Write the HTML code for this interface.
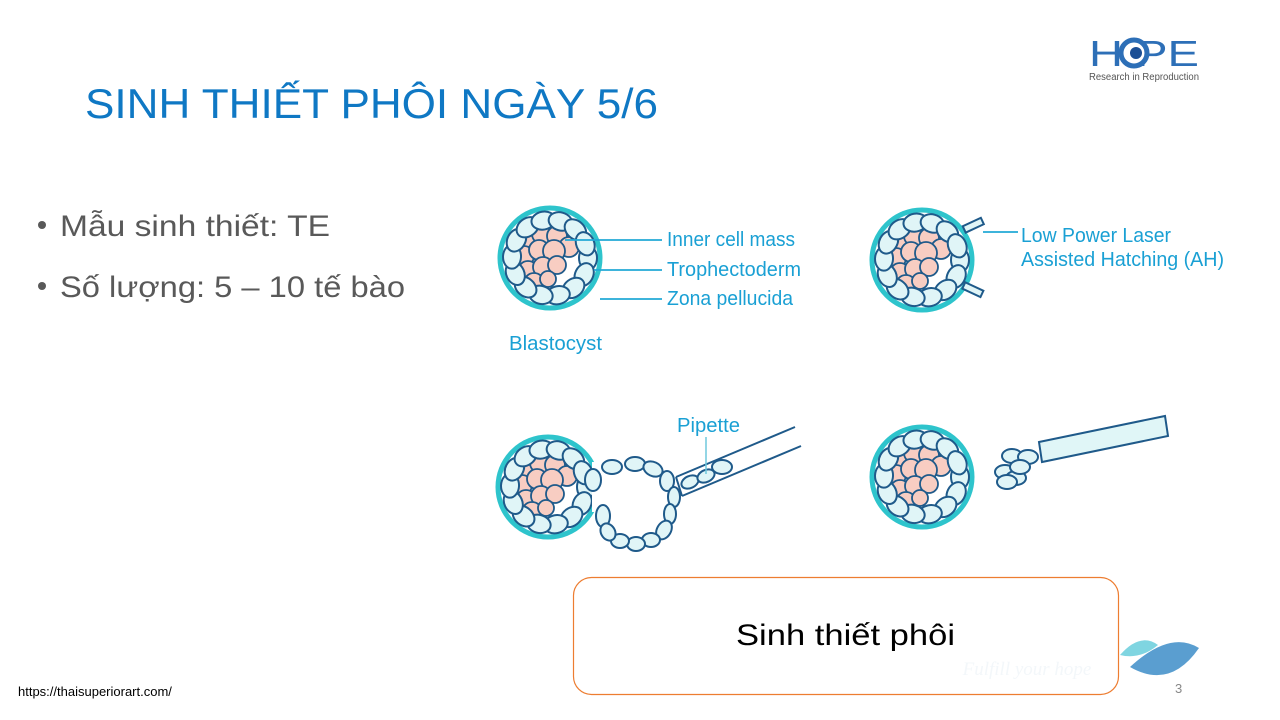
<!DOCTYPE html>
<html><head><meta charset="utf-8"><style>
html,body{margin:0;padding:0;background:#fff}
svg{display:block}
</style></head><body>
<svg width="1280" height="720" viewBox="0 0 1280 720" xmlns="http://www.w3.org/2000/svg">
<defs>
<g id="ring" fill="#e0f5f7" stroke="#1f5a8a" stroke-width="2">
<g transform="rotate(0)"><ellipse cx="38" cy="0" rx="9" ry="12"/></g>
<g transform="rotate(26)"><ellipse cx="38" cy="0" rx="9" ry="12"/></g>
<g transform="rotate(52)"><ellipse cx="38" cy="0" rx="9" ry="12"/></g>
<g transform="rotate(78)"><ellipse cx="38" cy="0" rx="9" ry="12"/></g>
<g transform="rotate(104)"><ellipse cx="38" cy="0" rx="9" ry="12"/></g>
<g transform="rotate(130)"><ellipse cx="38" cy="0" rx="9" ry="12"/></g>
<g transform="rotate(156)"><ellipse cx="38" cy="0" rx="9" ry="12"/></g>
<g transform="rotate(182)"><ellipse cx="38" cy="0" rx="9" ry="12"/></g>
<g transform="rotate(208)"><ellipse cx="38" cy="0" rx="9" ry="12"/></g>
<g transform="rotate(234)"><ellipse cx="38" cy="0" rx="9" ry="12"/></g>
<g transform="rotate(260)"><ellipse cx="38" cy="0" rx="9" ry="12"/></g>
<g transform="rotate(286)"><ellipse cx="38" cy="0" rx="9" ry="12"/></g>
<g transform="rotate(312)"><ellipse cx="38" cy="0" rx="9" ry="12"/></g>
<g transform="rotate(338)"><ellipse cx="38" cy="0" rx="9" ry="12"/></g>
</g>
<g id="icm" fill="#f8cdc2" stroke="#1f5a8a" stroke-width="1.8">
<circle cx="-22" cy="-18" r="10"/><circle cx="-8" cy="-24" r="10"/><circle cx="7" cy="-22" r="10"/>
<circle cx="19" cy="-11" r="10"/><circle cx="-26" cy="-2" r="10"/><circle cx="-11" cy="-8" r="10"/>
<circle cx="4" cy="-7" r="11"/><circle cx="-22" cy="13" r="10"/><circle cx="-7" cy="9" r="10"/>
<circle cx="7" cy="7" r="9"/><circle cx="-16" cy="25" r="10"/><circle cx="-2" cy="21" r="8"/>
</g>
<g id="bl">
<circle cx="0" cy="0" r="50" fill="#fff" stroke="#2ec4cc" stroke-width="5"/>
<use href="#icm"/>
<use href="#ring"/>
</g>
</defs>

<text x="85" y="118" font-family="Liberation Sans, sans-serif" font-size="42" fill="#0f78c4" textLength="573" lengthAdjust="spacingAndGlyphs">SINH THIẾT PHÔI NGÀY 5/6</text>
<g font-family="Liberation Sans, sans-serif" font-size="30" fill="#595959">
<circle cx="42" cy="225" r="4" fill="#595959"/>
<text x="60" y="236" textLength="270" lengthAdjust="spacingAndGlyphs">Mẫu sinh thiết: TE</text>
<circle cx="42" cy="286" r="4" fill="#595959"/>
<text x="60" y="297" textLength="345" lengthAdjust="spacingAndGlyphs">Số lượng: 5 – 10 tế bào</text>
</g>

<g font-family="Liberation Sans, sans-serif">
<text x="1089" y="66" font-size="36" fill="#2d6fb7" textLength="110" lengthAdjust="spacingAndGlyphs">H  PE</text>
<circle cx="1134" cy="53" r="13" fill="#fff" stroke="#2d6fb7" stroke-width="5"/>
<circle cx="1136" cy="53" r="6" fill="#1b4f95"/>
<text x="1089" y="80" font-size="10" fill="#555" textLength="110" lengthAdjust="spacingAndGlyphs">Research in Reproduction</text>
</g>

<use href="#bl" x="550" y="258"/>
<g stroke="#22a9d6" stroke-width="1.8">
<line x1="565" y1="240" x2="662" y2="240"/>
<line x1="594" y1="270" x2="662" y2="270"/>
<line x1="600" y1="299" x2="662" y2="299"/>
</g>
<g font-family="Liberation Sans, sans-serif" font-size="20" fill="#1aa0d4">
<text x="667" y="246" textLength="128" lengthAdjust="spacingAndGlyphs">Inner cell mass</text>
<text x="667" y="276" textLength="134" lengthAdjust="spacingAndGlyphs">Trophectoderm</text>
<text x="667" y="305" textLength="126" lengthAdjust="spacingAndGlyphs">Zona pellucida</text>
<text x="509" y="350" textLength="93" lengthAdjust="spacingAndGlyphs">Blastocyst</text>
</g>

<use href="#bl" x="922" y="260"/>
<g fill="#e0f5f7" stroke="#1f5a8a" stroke-width="2">
<rect x="964" y="226" width="20" height="7" transform="rotate(-25 964 229)"/>
<rect x="964" y="282" width="20" height="7" transform="rotate(25 964 285)"/>
</g>
<line x1="983" y1="232" x2="1018" y2="232" stroke="#22a9d6" stroke-width="1.8"/>
<g font-family="Liberation Sans, sans-serif" font-size="20" fill="#1aa0d4">
<text x="1021" y="242" textLength="150" lengthAdjust="spacingAndGlyphs">Low Power Laser</text>
<text x="1021" y="266" textLength="203" lengthAdjust="spacingAndGlyphs">Assisted Hatching (AH)</text>
<text x="677" y="432" textLength="63" lengthAdjust="spacingAndGlyphs">Pipette</text>
</g>

<use href="#bl" x="548" y="487"/>
<rect x="592" y="462" width="12" height="50" fill="#fff"/>
<g fill="#e0f5f7" stroke="#1f5a8a" stroke-width="2">
<ellipse cx="593" cy="480" rx="8" ry="11"/>
<ellipse cx="603" cy="516" rx="7" ry="11"/>
<ellipse cx="612" cy="467" rx="10" ry="7"/>
<ellipse cx="635" cy="464" rx="10" ry="7"/>
<ellipse cx="653" cy="469" rx="10" ry="7" transform="rotate(25 653 469)"/>
<ellipse cx="667" cy="481" rx="7" ry="10"/>
<ellipse cx="674" cy="497" rx="6" ry="10"/>
<ellipse cx="670" cy="514" rx="6" ry="10"/>
<ellipse cx="664" cy="530" rx="7" ry="10" transform="rotate(30 664 530)"/>
<ellipse cx="651" cy="540" rx="9" ry="7"/>
<ellipse cx="636" cy="544" rx="9" ry="7"/>
<ellipse cx="620" cy="541" rx="9" ry="7"/>
<ellipse cx="608" cy="532" rx="7" ry="9" transform="rotate(-30 608 532)"/>
<ellipse cx="690" cy="482" rx="9" ry="6" transform="rotate(-25 690 482)"/>
<ellipse cx="706" cy="476" rx="9" ry="6" transform="rotate(-25 706 476)"/>
<ellipse cx="722" cy="467" rx="10" ry="7"/>
</g>
<g stroke="#1f5a8a" stroke-width="2">
<line x1="676" y1="477" x2="795" y2="427"/>
<line x1="682" y1="496" x2="801" y2="446"/>
<line x1="676" y1="477" x2="682" y2="496"/>
</g>
<line x1="706" y1="437" x2="706" y2="474" stroke="#6fc9dc" stroke-width="1.5"/>

<use href="#bl" x="922" y="477"/>
<g fill="#e0f5f7" stroke="#1f5a8a" stroke-width="2">
<ellipse cx="1005" cy="472" rx="10" ry="7"/>
<ellipse cx="1016" cy="478" rx="10" ry="7"/>
<ellipse cx="1007" cy="482" rx="10" ry="7"/>
<ellipse cx="1012" cy="456" rx="10" ry="7"/>
<ellipse cx="1028" cy="457" rx="10" ry="7"/>
<ellipse cx="1020" cy="467" rx="10" ry="7"/>
</g>
<polygon points="1039,442 1165,416 1168,436 1042,462" fill="#e0f6f7" stroke="#1f5a8a" stroke-width="2"/>

<rect x="573.5" y="577.5" width="545" height="117" rx="18" fill="#fff" stroke="#ed7d31" stroke-width="1.2"/>
<text x="736" y="645" font-family="Liberation Sans, sans-serif" font-size="30" fill="#000" textLength="219" lengthAdjust="spacingAndGlyphs">Sinh thiết phôi</text>
<text x="1027" y="675" text-anchor="middle" font-family="Liberation Serif, serif" font-style="italic" font-size="19" fill="#f3f7fa">Fulfill your hope</text>

<path d="M1120,655 Q1140,632 1158,645 Q1140,660 1120,655 Z" fill="#7fd5e1"/>
<path d="M1130,667 Q1170,630 1199,648 Q1170,690 1130,667 Z" fill="#5a9ed0"/>
<text x="1175" y="693" font-family="Liberation Sans, sans-serif" font-size="13" fill="#888">3</text>

<text x="18" y="696" font-family="Liberation Sans, sans-serif" font-size="13" fill="#000">https://thaisuperiorart.com/</text>
</svg>
</body></html>
